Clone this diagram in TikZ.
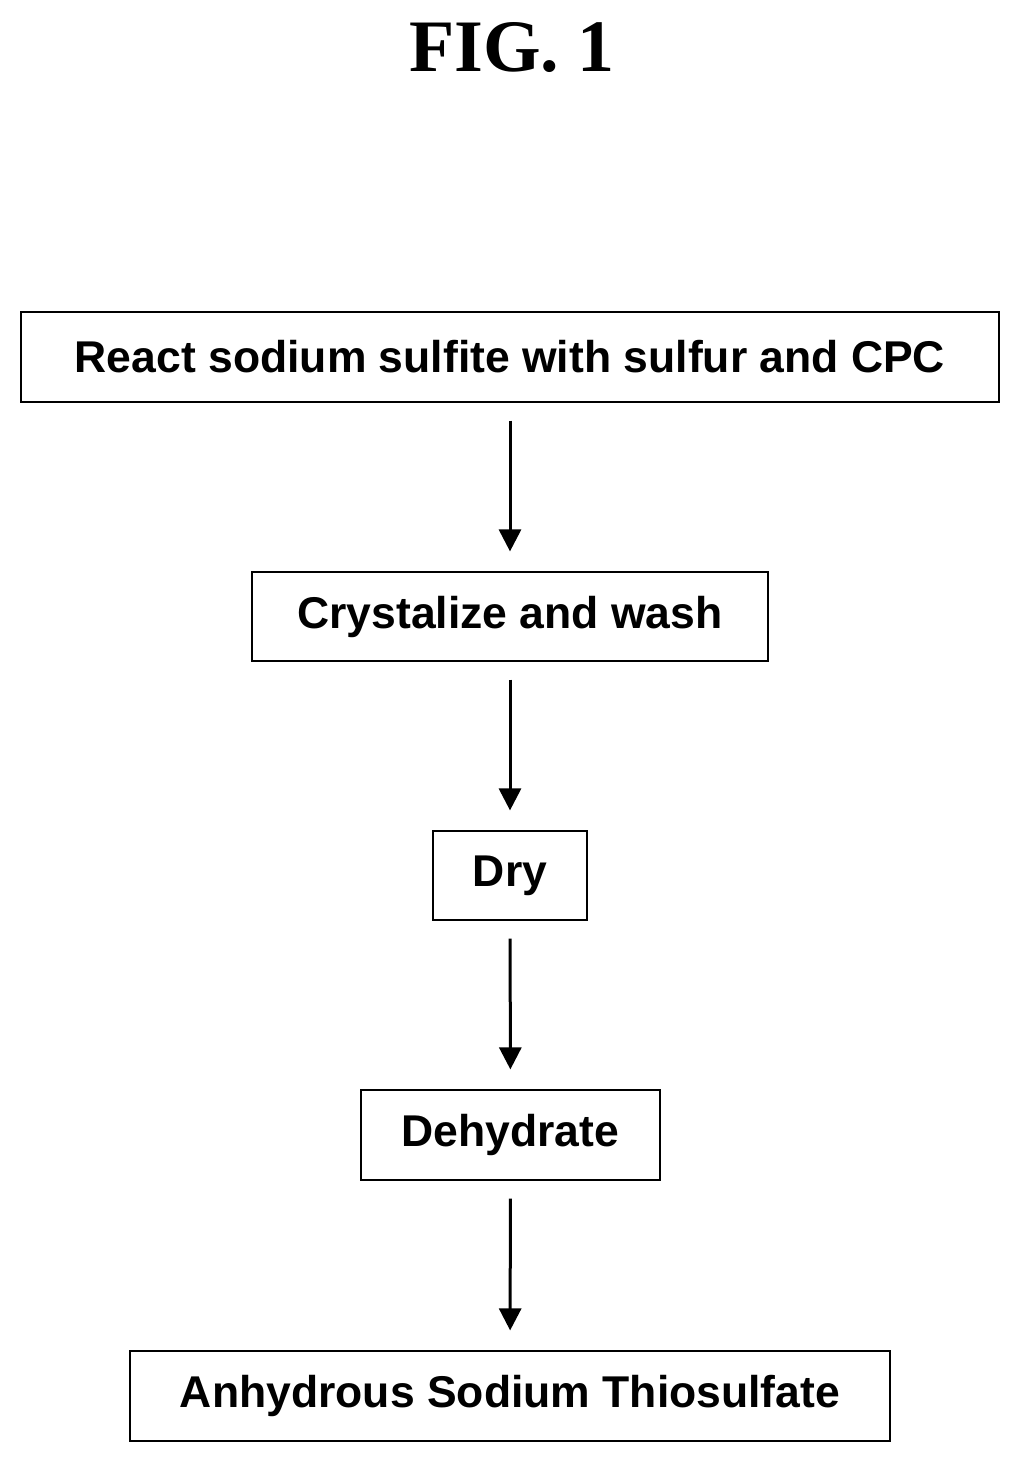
\documentclass[tikz,border=0pt]{standalone}
\usepackage{fontspec}
\setmainfont{Liberation Serif}
\setsansfont{Liberation Sans}
\usetikzlibrary{arrows.meta}
\begin{document}
\begin{tikzpicture}[x=1pt,y=1pt,
  box/.style={draw,line width=1.2pt,inner sep=0pt,font=\sffamily\bfseries\fontsize{44.5}{48}\selectfont},
  arr/.style={line width=3pt,-{Triangle[width=22pt,length=22pt]},shorten <=18pt,shorten >=20pt}]
\useasboundingbox (0,0) rectangle (1021,-1462);
\node[font=\bfseries\fontsize{74}{80}\selectfont] (t) at (512,-48) {FIG. 1};
\node[box,minimum width=978,minimum height=90] (a) at (510,-357) {React sodium sulfite with sulfur and CPC};
\node[box,minimum width=516,minimum height=89] (b) at (510,-616.5) {Crystalize and wash};
\node[box,minimum width=154,minimum height=89] (c) at (510,-875.5) {Dry};
\node[box,minimum width=299,minimum height=90] (d) at (510.5,-1135) {Dehydrate};
\node[box,minimum width=760,minimum height=90] (e) at (510,-1396) {Anhydrous Sodium Thiosulfate};
\draw[arr] (a) -- (b);
\draw[arr] (b) -- (c);
\draw[arr] (c) -- (d);
\draw[arr] (d) -- (e);
\end{tikzpicture}
\end{document}
